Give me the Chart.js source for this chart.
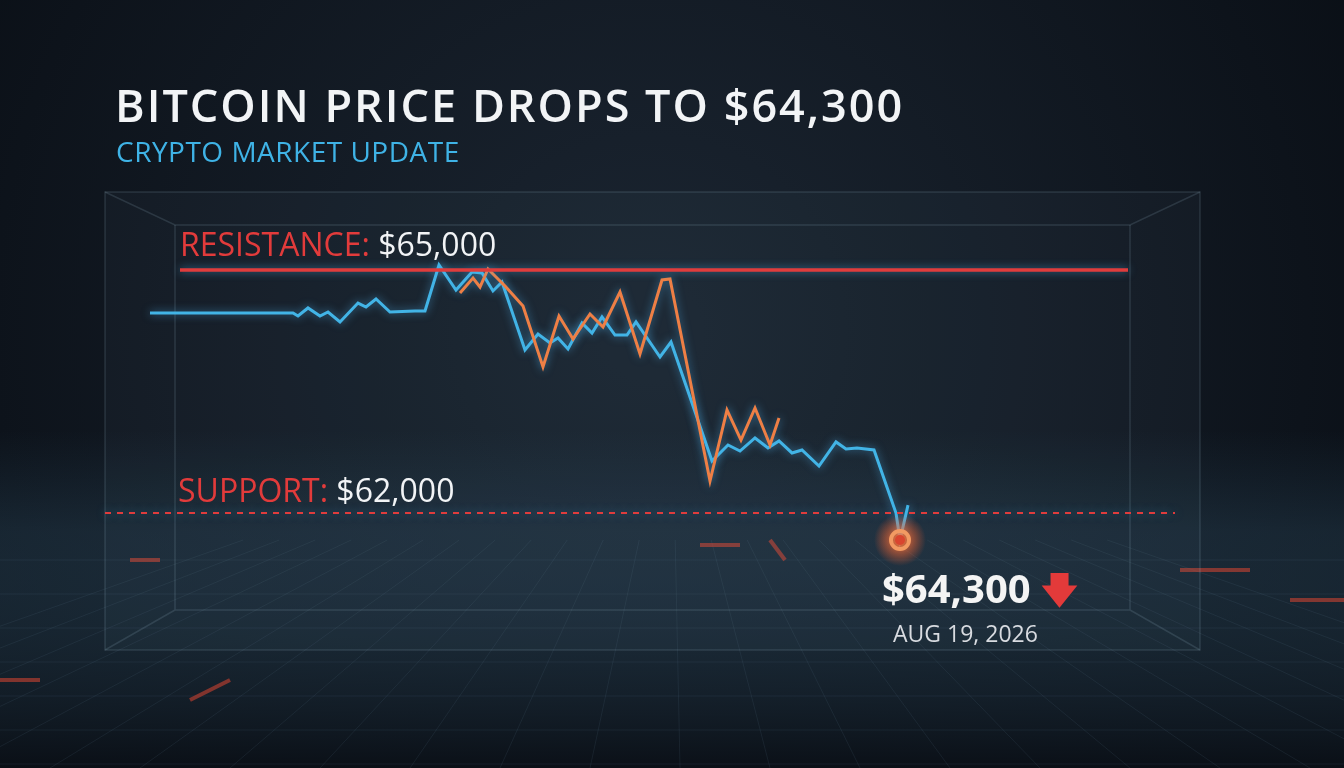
<!DOCTYPE html>
<html>
<head>
<meta charset="utf-8">
<script src="https://cdn.jsdelivr.net/npm/chart.js@4.4.1/dist/chart.umd.min.js"></script>
<style>
  html, body { margin:0; padding:0; width:1344px; height:768px; overflow:hidden; background:#0d141d; }
  #wrap { position:relative; width:1344px; height:768px; }
  canvas { position:absolute; left:0; top:0; }
  .txt { position:absolute; font-family:"Open Sans", Inter, sans-serif; white-space:nowrap; }
  #title { left:115px; top:74px; font-size:45px; font-weight:600; color:#f2f4f6; letter-spacing:2px; }
  #sub { left:116px; top:132px; font-size:28px; color:#3fb3e6; letter-spacing:0.5px; }
  #res { left:180px; top:222px; font-size:32px; font-weight:500; color:#e23b3b; }
  #sup { left:178px; top:468px; font-size:32px; font-weight:500; color:#e23b3b; }
  .w { color:#f2f4f6; }
  #price { left:882px; top:560px; font-size:40px; font-weight:700; color:#f4f4f4; }
  #arrow { color:#e33a3a; font-size:36px; }
  #date { left:893px; top:617px; font-size:23px; color:#d8dbe0; }
</style>
</head>
<body>
<div id="wrap">
  <canvas id="c" width="1344" height="768"></canvas>
  <div class="txt" id="title">BITCOIN PRICE DROPS TO $64,300</div>
  <div class="txt" id="sub">CRYPTO MARKET UPDATE</div>
  <div class="txt" id="res">RESISTANCE: <span class="w">$65,000</span></div>
  <div class="txt" id="sup">SUPPORT: <span class="w">$62,000</span></div>
  <div class="txt" id="price">$64,300 <span id="arrow">&#129095;</span></div>
  <div class="txt" id="date">AUG 19, 2026</div>
</div>
<script>
// time in hours, price in USD
const blueHours = [0,14.3,14.8,15.8,17,17.8,19,20.8,21.6,22.6,24,26.5,27.5,28.9,30.6,32.2,33.2,34.3,35.2,37.5,38.8,40,40.8,41.8,43.2,44.2,45.2,46.5,47.7,48.6,51,52.1,56.2,57.8,59,60.5,61.8,62.9,64.2,65.2,66.9,68.6,69.6,70.7,72.4,74.6,75.0,75.8];
const bluePrice = [64469,64469,64432,64531,64432,64481,64358,64592,64543,64642,64481,64494,64494,65062,64753,64975,64963,64741,64852,64012,64210,64099,64160,64025,64346,64222,64420,64197,64197,64358,63926,64111,62642,62840,62765,62926,62802,62889,62741,62778,62580,62877,62790,62802,62778,62000,61667,62097];
const orangeHours = [31,32.3,33,33.8,35.5,37.3,39.3,40.9,42.3,44,45.3,47,49,51.2,52,56,57.7,59.1,60.5,62,62.9];
const orangePrice = [64716,64901,64790,65012,64802,64556,63803,64432,64148,64457,64296,64728,63963,64877,64889,62395,63272,62901,63296,62839,63173];
const resistance = 65000, support = 62000;
const lowHour = 75.0, lowPrice = 61667;

const bgPlugin = {
  id:'bg',
  beforeDraw(chart) {
    const g = chart.ctx, W = chart.width, H = chart.height;
    let gr = g.createRadialGradient(650,330,50,650,330,800);
    gr.addColorStop(0,'#1a2430'); gr.addColorStop(1,'#0a0f16');
    g.fillStyle = gr; g.fillRect(0,0,W,H);
    gr = g.createLinearGradient(0,430,0,768);
    gr.addColorStop(0,'rgba(40,70,90,0)'); gr.addColorStop(0.3,'rgba(45,75,95,0.35)'); gr.addColorStop(1,'rgba(10,15,22,0.9)');
    g.fillStyle = gr; g.fillRect(0,430,W,338);
    g.strokeStyle = 'rgba(90,120,140,0.14)'; g.lineWidth = 1;
    for (let y = 560; y < 768; y += 34) { g.beginPath(); g.moveTo(0,y); g.lineTo(W,y); g.stroke(); }
    for (let x = -400; x < 1800; x += 90) { g.beginPath(); g.moveTo(672+(x-672)*0.4,540); g.lineTo(x,768); g.stroke(); }
    g.strokeStyle = 'rgba(220,70,50,0.55)'; g.lineWidth = 4;
    [[130,560,160,560],[1180,570,1250,570],[1290,600,1344,600],[0,680,40,680],[190,700,230,680],[700,545,740,545],[770,540,785,560]].forEach(s => {
      g.beginPath(); g.moveTo(s[0],s[1]); g.lineTo(s[2],s[3]); g.stroke();
    });
    g.fillStyle = 'rgba(120,150,170,0.05)';
    g.fillRect(105,192,1095,458);
    g.strokeStyle = 'rgba(160,190,210,0.16)'; g.lineWidth = 1.5;
    g.strokeRect(105,192,1095,458);
    g.beginPath(); g.moveTo(105,192); g.lineTo(175,225); g.lineTo(1130,225); g.lineTo(1200,192); g.stroke();
    g.beginPath(); g.moveTo(175,225); g.lineTo(175,610); g.lineTo(105,650); g.moveTo(1130,225); g.lineTo(1130,610); g.lineTo(1200,650); g.moveTo(175,610); g.lineTo(1130,610); g.stroke();
  },
  beforeDatasetsDraw(chart) { chart.ctx.save(); chart.ctx.shadowBlur = 8; chart.ctx.shadowColor = 'rgba(80,180,240,0.6)'; },
  afterDatasetsDraw(chart) {
    chart.ctx.restore();
    const g = chart.ctx, x = chart.scales.x.getPixelForValue(lowHour), y = chart.scales.y.getPixelForValue(lowPrice);
    const gr = g.createRadialGradient(x,y,2,x,y,26);
    gr.addColorStop(0,'rgba(255,120,60,0.9)'); gr.addColorStop(1,'rgba(255,90,40,0)');
    g.fillStyle = gr; g.beginPath(); g.arc(x,y,26,0,Math.PI*2); g.fill();
    g.strokeStyle = '#f29a62'; g.lineWidth = 4; g.beginPath(); g.arc(x,y,9,0,Math.PI*2); g.stroke();
    g.fillStyle = '#d9452f'; g.beginPath(); g.arc(x,y,5,0,Math.PI*2); g.fill();
  }
};

const toPts = (xs, ys) => xs.map((h,i) => ({x:h, y:ys[i]}));
new Chart(document.getElementById('c'), {
  type:'line',
  data:{ datasets:[
    { data:[{x:3,y:resistance},{x:97.8,y:resistance}], borderColor:'#e03c3c', borderWidth:3.5, pointRadius:0 },
    { data:[{x:-4.5,y:support},{x:102.5,y:support}], borderColor:'#e03c3c', borderWidth:2, borderDash:[6,6], pointRadius:0 },
    { data:toPts(orangeHours, orangePrice), borderColor:'#ee7f45', borderWidth:3, pointRadius:0, tension:0 },
    { data:toPts(blueHours, bluePrice), borderColor:'#42b4e6', borderWidth:3, pointRadius:0, tension:0 }
  ]},
  options:{
    responsive:false, animation:false, events:[],
    layout:{ padding:0 },
    plugins:{ legend:{display:false}, tooltip:{enabled:false} },
    scales:{
      x:{ type:'linear', min:-15, max:119.4, display:false },
      y:{ min:58852, max:68333, display:false }
    }
  },
  plugins:[bgPlugin]
});
</script>
</body>
</html>
